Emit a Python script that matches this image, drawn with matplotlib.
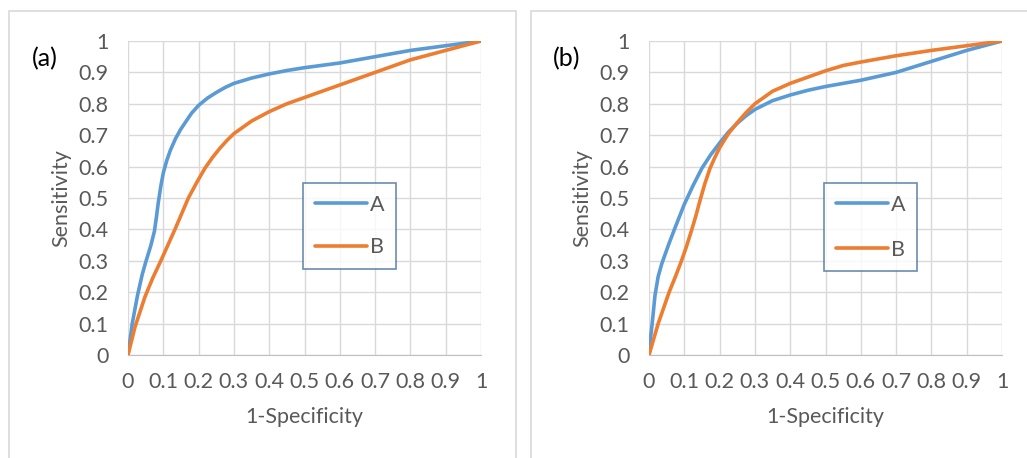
import numpy as np
from matplotlib import pyplot as plt
from matplotlib.patches import Rectangle

plt.rcParams['font.family'] = ['Lato', 'DejaVu Sans']

# panel (a)
x_aA = [0, 0.006, 0.012, 0.027, 0.04, 0.05, 0.065, 0.075, 0.08, 0.086, 0.093, 0.1, 0.11, 0.12, 0.135, 0.15, 0.165, 0.18, 0.2, 0.225, 0.25, 0.275, 0.3, 0.35, 0.4, 0.45, 0.5, 0.6, 0.7, 0.8, 0.9, 1.0]
y_aA = [0, 0.05, 0.10, 0.19, 0.255, 0.295, 0.35, 0.395, 0.435, 0.487, 0.538, 0.58, 0.62, 0.652, 0.69, 0.72, 0.745, 0.77, 0.795, 0.818, 0.836, 0.852, 0.865, 0.882, 0.895, 0.906, 0.915, 0.93, 0.95, 0.97, 0.985, 1.0]
x_aB = [0, 0.02, 0.048, 0.07, 0.093, 0.113, 0.133, 0.152, 0.171, 0.195, 0.218, 0.24, 0.26, 0.28, 0.3, 0.35, 0.4, 0.45, 0.5, 0.6, 0.7, 0.8, 0.9, 1.0]
y_aB = [0, 0.09, 0.185, 0.245, 0.30, 0.35, 0.40, 0.45, 0.50, 0.55, 0.595, 0.63, 0.658, 0.683, 0.705, 0.745, 0.775, 0.80, 0.82, 0.86, 0.90, 0.94, 0.97, 1.0]

# panel (b)
x_bA = [0, 0.005, 0.009, 0.017, 0.026, 0.036, 0.055, 0.072, 0.1, 0.125, 0.15, 0.175, 0.2, 0.225, 0.25, 0.275, 0.3, 0.35, 0.4, 0.45, 0.5, 0.6, 0.7, 0.8, 0.9, 1.0]
y_bA = [0, 0.06, 0.10, 0.19, 0.25, 0.29, 0.35, 0.40, 0.48, 0.54, 0.595, 0.638, 0.675, 0.71, 0.738, 0.762, 0.782, 0.81, 0.828, 0.843, 0.855, 0.875, 0.90, 0.935, 0.97, 1.0]
x_bB = [0, 0.026, 0.057, 0.075, 0.092, 0.106, 0.12, 0.132, 0.144, 0.158, 0.173, 0.187, 0.2, 0.225, 0.25, 0.275, 0.3, 0.35, 0.4, 0.45, 0.5, 0.55, 0.6, 0.7, 0.8, 0.9, 1.0]
y_bB = [0, 0.10, 0.20, 0.25, 0.30, 0.345, 0.395, 0.44, 0.49, 0.545, 0.595, 0.63, 0.66, 0.705, 0.74, 0.772, 0.80, 0.84, 0.865, 0.885, 0.905, 0.922, 0.933, 0.953, 0.97, 0.985, 1.0]

ticks = np.round(np.arange(0, 1.01, 0.1), 1)
tick_labels = ['0'] + ['%.1f' % t for t in ticks[1:-1]] + ['1']

blue = '#5B9BD5'
orange = '#ED7D31'
txt = '#595959'
fs = 15.5

fig = plt.figure(figsize=(10.27, 4.58), dpi=100)

# light frames round each panel
fig.patches.append(Rectangle((9/1027, -0.05), 507/1027, (458-11)/458 + 0.05, transform=fig.transFigure,
                             fill=False, edgecolor='#d9d9d9', linewidth=1.2))
fig.patches.append(Rectangle((531/1027, -0.05), 520/1027, (458-11)/458 + 0.05, transform=fig.transFigure,
                             fill=False, edgecolor='#d9d9d9', linewidth=1.2))

panels = [
    (128, '(a)', x_aA, y_aA, x_aB, y_aB, 1.05),
    (649, '(b)', x_bA, y_bA, x_bB, y_bB, 1.15),
]

for left, tag, xa, ya, xb, yb, lsp in panels:
    ax = fig.add_axes([left/1027, (458-355)/458, 353/1027, 314/458])
    ax.plot(xa, ya, color=blue, linewidth=2.6, label='A', solid_capstyle='round', solid_joinstyle='round')
    ax.plot(xb, yb, color=orange, linewidth=2.6, label='B', solid_capstyle='round', solid_joinstyle='round')
    ax.set_xlim(0, 1)
    ax.set_ylim(0, 1)
    ax.set_xticks(ticks)
    ax.set_yticks(ticks)
    ax.set_xticklabels(tick_labels)
    ax.set_yticklabels(tick_labels)
    ax.grid(True, color='#d9d9d9', linewidth=1.0)
    ax.set_axisbelow(True)
    for s in ['top', 'right', 'left']:
        ax.spines[s].set_visible(False)
    ax.spines['bottom'].set_color('#bfbfbf')
    ax.tick_params(axis='both', length=0, labelsize=fs, labelcolor=txt)
    ax.tick_params(axis='x', pad=12)
    ax.tick_params(axis='y', pad=14)
    ax.set_xlabel('1-Specificity', fontsize=fs, color=txt)
    ax.set_ylabel('Sensitivity', fontsize=fs, color=txt)
    ax.xaxis.set_label_coords(0.5, -0.165)
    ax.yaxis.set_label_coords(-0.16, 0.5)
    leg = ax.legend(loc='upper left', bbox_to_anchor=(0.496, 0.548), fontsize=fs,
                    frameon=True, fancybox=False, edgecolor='#41719C', handlelength=2.4,
                    handletextpad=0.15, labelspacing=lsp, borderpad=0.55, borderaxespad=0)
    leg.get_frame().set_linewidth(1.2)
    for t in leg.get_texts():
        t.set_color(txt)
    fig.text((left - 96)/1027, (458-59)/458, tag, fontsize=18, color='black', va='center', ha='left')

plt.savefig('out.png', dpi=100)
